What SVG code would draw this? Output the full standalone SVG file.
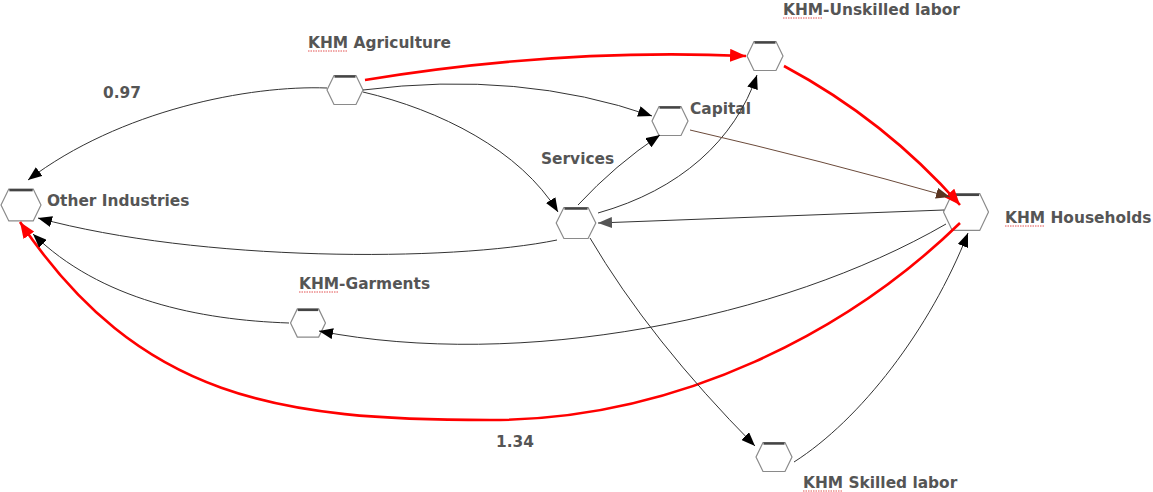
<svg xmlns="http://www.w3.org/2000/svg" width="1153" height="492" viewBox="0 0 1153 492">
<style>
.lbl{font-family:"DejaVu Sans",Verdana,sans-serif;font-weight:bold;font-size:15.4px;fill:#555}
.hex{fill:#fff;stroke:#8a8a8a;stroke-width:1.2}
.top{stroke:#444;stroke-width:2.4}
.k{fill:none;stroke:#333;stroke-width:1}
.r{fill:none;stroke:#ff0000;stroke-width:2.6}
.br{fill:none;stroke:#6b4a3a;stroke-width:1}
.sq{fill:none;stroke:#e04040;stroke-width:0.9;stroke-dasharray:1.5 1}
</style>
<defs>
<marker id="ak" markerUnits="userSpaceOnUse" markerWidth="15" markerHeight="11" refX="14" refY="5.5" orient="auto"><path d="M0,0 L14,5.5 L0,11 z" fill="#000"/></marker>
<marker id="ar" markerUnits="userSpaceOnUse" markerWidth="17" markerHeight="13" refX="16" refY="6.5" orient="auto"><path d="M0,0 L16,6.5 L0,13 z" fill="#ff0000"/></marker>
<marker id="ab" markerUnits="userSpaceOnUse" markerWidth="15" markerHeight="11" refX="14" refY="5.5" orient="auto"><path d="M0,0 L14,5.5 L0,11 z" fill="#5a3520"/></marker>
<marker id="ag" markerUnits="userSpaceOnUse" markerWidth="15" markerHeight="11" refX="14" refY="5.5" orient="auto"><path d="M0,0 L14,5.5 L0,11 z" fill="#555"/></marker>
<g id="hx"><polygon class="hex" vector-effect="non-scaling-stroke" points="-18,0 -11,-14.5 11,-14.5 18,0 11,14.5 -11,14.5"/><line class="top" vector-effect="non-scaling-stroke" x1="-10.5" y1="-13.5" x2="10.5" y2="-13.5"/></g>
</defs>
<rect width="1153" height="492" fill="#fff"/>
<g id="agriculture"><use href="#hx" transform="translate(345,90)"/><text class="lbl" x="308" y="48">KHM Agriculture</text><path class="sq" d="M308,51 H348"/></g>
<g id="unskilled"><use href="#hx" transform="translate(765,56)"/><text class="lbl" x="783" y="15">KHM-Unskilled labor</text><path class="sq" d="M783,18 H823"/></g>
<g id="capital"><use href="#hx" transform="translate(670,121)"/><text class="lbl" x="690" y="114">Capital</text></g>
<g id="services"><use href="#hx" transform="translate(576,223) scale(1.1,1.07)"/><text class="lbl" x="541" y="164">Services</text></g>
<g id="other-industries"><use href="#hx" transform="translate(21,205) scale(1.11,1.1)"/><text class="lbl" x="47" y="206">Other Industries</text></g>
<g id="households"><use href="#hx" transform="translate(966,212) scale(1.25,1.27)"/><text class="lbl" x="1005" y="223">KHM Households</text><path class="sq" d="M1005,226 H1045"/></g>
<g id="garments"><use href="#hx" transform="translate(308,323) scale(0.97,0.97)"/><text class="lbl" x="299" y="289">KHM-Garments</text><path class="sq" d="M299,292 H339"/></g>
<g id="skilled"><use href="#hx" transform="translate(774,457)"/><text class="lbl" x="803" y="488">KHM Skilled labor</text><path class="sq" d="M803,491 H843"/></g>
<g id="connectors">
<path class="r" d="M365,80 Q560,48 746,56" marker-end="url(#ar)"/>
<path class="r" d="M784,66 Q885,120 960,205" marker-end="url(#ar)"/>
<path class="r" d="M960,223 C850,330 680,420 490,420 C280,420 140,400 20,222" marker-end="url(#ar)"/>
<path class="k" d="M327,88 C250,85 120,110 28,180" marker-end="url(#ak)"/>
<path class="k" d="M363,90 Q520,70 652,116" marker-end="url(#ak)"/>
<path class="k" d="M363,92 C440,110 520,150 558,212" marker-end="url(#ak)"/>
<path class="k" d="M578,205 Q615,165 660,135" marker-end="url(#ak)"/>
<path class="k" d="M598,213 C680,190 735,140 757,75" marker-end="url(#ak)"/>
<path class="br" d="M690,130 Q820,160 950,197" marker-end="url(#ab)"/>
<path class="k" d="M944,210 L598,223" marker-end="url(#ag)"/>
<path class="k" d="M557,240 C450,262 200,262 38,218" marker-end="url(#ak)"/>
<path class="k" d="M946,224 C780,320 520,370 319,331" marker-end="url(#ak)"/>
<path class="k" d="M289,323 C200,320 100,300 33,234" marker-end="url(#ak)"/>
<path class="k" d="M590,238 Q650,340 755,446" marker-end="url(#ak)"/>
<path class="k" d="M794,462 C860,420 930,330 968,233" marker-end="url(#ak)"/>
</g>
<g id="edge-labels"><text class="lbl" x="103" y="98">0.97</text><text class="lbl" x="496" y="447">1.34</text></g>
</svg>
